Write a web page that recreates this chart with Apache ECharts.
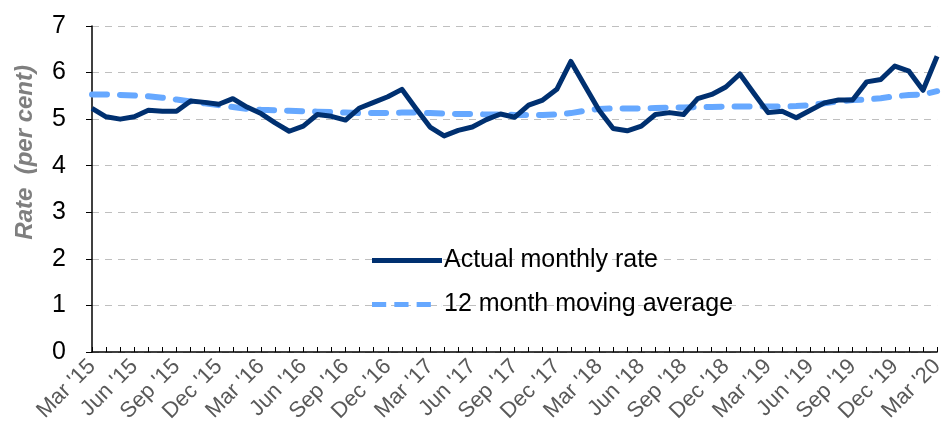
<!DOCTYPE html>
<html>
<head>
<meta charset="utf-8">
<script src="https://cdn.jsdelivr.net/npm/echarts@6/dist/echarts.min.js"></script>
<style>html,body{margin:0;padding:0;background:#fff;}#c{width:947px;height:439px;}</style>
</head>
<body>
<div id="c"></div>
<script>
const monthNames = ['Jan','Feb','Mar','Apr','May','Jun','Jul','Aug','Sep','Oct','Nov','Dec'];
const categories = [];
for (let y = 15, m = 2; categories.length < 61; ) {
  categories.push(monthNames[m] + " '" + y);
  m++; if (m === 12) { m = 0; y++; }
}
const actualRate = [
  5.23, 5.05, 5.00, 5.05, 5.19, 5.17, 5.17, 5.39, 5.36, 5.32, 5.44, 5.26,
  5.12, 4.92, 4.74, 4.85, 5.10, 5.06, 4.98, 5.24, 5.36, 5.48, 5.64, 5.23,
  4.83, 4.64, 4.76, 4.83, 4.99, 5.11, 5.04, 5.30, 5.41, 5.64, 6.24, 5.71,
  5.19, 4.80, 4.75, 4.85, 5.10, 5.14, 5.10, 5.44, 5.53, 5.69, 5.97, 5.55,
  5.14, 5.17, 5.03, 5.19, 5.35, 5.41, 5.41, 5.80, 5.85, 6.14, 6.03, 5.62,
  6.35
];
const movingAverage = [
  5.53, 5.53, 5.52, 5.51, 5.49, 5.46, 5.42, 5.38, 5.34, 5.30, 5.26, 5.22,
  5.20, 5.19, 5.18, 5.17, 5.16, 5.15, 5.14, 5.13, 5.13, 5.13, 5.14, 5.14,
  5.13, 5.12, 5.11, 5.11, 5.10, 5.10, 5.09, 5.09, 5.09, 5.10, 5.13, 5.18,
  5.22, 5.23, 5.23, 5.23, 5.24, 5.25, 5.25, 5.26, 5.26, 5.27, 5.27, 5.27,
  5.27, 5.27, 5.28, 5.30, 5.34, 5.38, 5.41, 5.42, 5.45, 5.49, 5.52, 5.53,
  5.60
];
const yTicks = [0, 1, 2, 3, 4, 5, 6, 7];

const chart = echarts.init(document.getElementById('c'), null, {renderer: 'canvas'});
const font = 'Liberation Sans, Arial, sans-serif';
const solidIcon = 'path://M0,0 L70,0 L70,5 L0,5 Z';
const dashIcon = 'path://M1,0 L15,0 L15,5 L1,5 Z M23,0 L37,0 L37,5 L23,5 Z M45,0 L59,0 L59,5 L45,5 Z M70,0 L70,5 L69.9,5 Z';
chart.setOption({
  animation: false,
  textStyle: {fontFamily: font},
  grid: {left: 92, right: 2, top: 26, bottom: 87, containLabel: false},
  legend: {
    orient: 'vertical', left: 367, top: 243,
    itemWidth: 70, itemHeight: 16, itemGap: 19,
    textStyle: {fontSize: 25, lineHeight: 25, color: '#000', fontFamily: font, padding: [0, 0, 0, -3]},
    data: [
      {name: 'Actual monthly rate', icon: solidIcon},
      {name: '12 month moving average', icon: dashIcon}
    ]
  },
  xAxis: {
    type: 'category', data: categories, boundaryGap: false,
    axisLine: {lineStyle: {color: '#000', width: 1.5}},
    axisTick: {show: true, inside: true, length: 5, interval: 0, lineStyle: {color: '#000'}},
    axisLabel: {interval: 2, rotate: 45, fontSize: 22, color: '#595959', fontFamily: font, margin: 11},
    splitLine: {show: false}
  },
  yAxis: {
    type: 'value', min: yTicks[0], max: yTicks[yTicks.length - 1], interval: 1,
    axisLine: {show: true, lineStyle: {color: '#000', width: 1.5}},
    axisTick: {show: true, inside: false, length: 6, lineStyle: {color: '#000'}},
    axisLabel: {fontSize: 25, color: '#000', fontFamily: font, margin: 26},
    splitLine: {show: true, lineStyle: {color: '#bfbfbf', type: [7, 6], width: 1.2}}
  },
  graphic: [{
    type: 'text', left: 13, top: 65, rotation: Math.PI / 2,
    style: {text: 'Rate  (per cent)', fontSize: 24, fontStyle: 'italic', fontWeight: 'bold',
      fill: '#7f7f7f', fontFamily: font}
  }],
  series: [
    {
      name: 'Actual monthly rate', type: 'line', data: actualRate,
      symbol: 'none', smooth: false, z: 3,
      lineStyle: {color: '#003070', width: 5, join: 'round'},
      itemStyle: {color: '#003070'}
    },
    {
      name: '12 month moving average', type: 'line', data: movingAverage,
      symbol: 'none', smooth: false, z: 2,
      lineStyle: {color: '#66a8ff', width: 6, type: [15, 13], cap: 'round'},
      itemStyle: {color: '#66a8ff'}
    }
  ]
});
</script>
</body>
</html>
